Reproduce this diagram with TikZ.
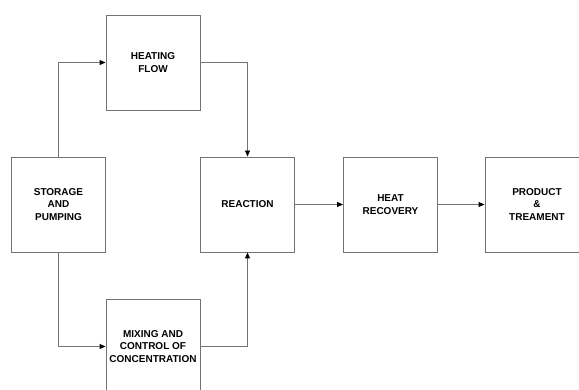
\documentclass[tikz,border=0pt]{standalone}
\usepackage{fontspec}
\setmainfont{Liberation Sans}
\usetikzlibrary{arrows.meta}
\definecolor{linegray}{RGB}{115,115,115}
\begin{document}
\begin{tikzpicture}[x=1pt,y=-1pt,
  blockbox/.style={draw=linegray,line width=0.9pt,minimum width=94pt,minimum height=95pt,
    align=center,font=\fontsize{10}{12.5}\selectfont\bfseries,inner sep=0pt},
  flow/.style={draw=linegray,line width=0.9pt,-{Triangle[length=6pt,width=5pt,fill=black,color=black]}}]
\useasboundingbox (0,0) rectangle (579,390);
\node[blockbox] (store) at (58.5,204.5) {STORAGE\\AND\\PUMPING};
\node[blockbox] (heat) at (153,62.5) {HEATING\\FLOW};
\node[blockbox] (mix) at (153,346.5) {MIXING AND\\CONTROL OF\\CONCENTRATION};
\node[blockbox] (react) at (247.5,204.5) {REACTION};
\node[blockbox] (recov) at (390.5,204.5) {HEAT\\RECOVERY};
\node[blockbox,minimum width=104pt] (prod) at (537,204.5) {PRODUCT\\\&\\TREAMENT};
\draw[flow] (store.north) |- (heat.west);
\draw[flow] (heat.east) -| (react.north);
\draw[flow] (store.south) |- (mix.west);
\draw[flow] (mix.east) -| (react.south);
\draw[flow] (react.east) -- (recov.west);
\draw[flow] (recov.east) -- (prod.west);
\end{tikzpicture}
\end{document}
